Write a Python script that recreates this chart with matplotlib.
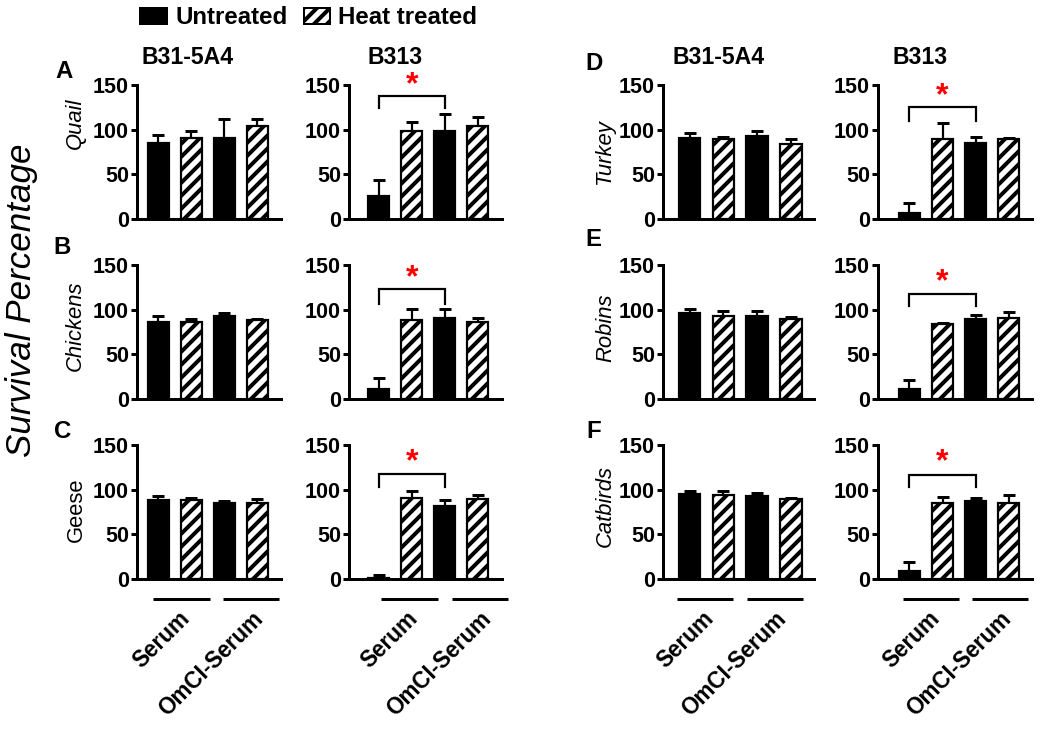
import matplotlib
matplotlib.use('Agg')
import matplotlib.pyplot as plt
import numpy as np
from matplotlib.patches import Patch
import matplotlib.transforms as mtransforms

DPI = 78
W, H = 1050, 732
PT = 72.0 / DPI


def px(v):
    return v * PT


plt.rcParams['font.family'] = ['Liberation Sans', 'DejaVu Sans']
plt.rcParams['hatch.linewidth'] = px(4)

# ---------------- data ----------------
species = ['Quail', 'Chickens', 'Geese', 'Turkey', 'Robins', 'Catbirds']
panel_letters = ['A', 'B', 'C', 'D', 'E', 'F']
strains = ['B31-5A4', 'B313']
groups = ['Serum', 'OmCI-Serum']
treatments = ['Untreated', 'Heat treated']
# bar order: Serum-Untreated, Serum-Heat, OmCI-Untreated, OmCI-Heat
quail_b31 = [85, 91, 91, 104]
quail_b31_err = [9, 8, 21, 8]
quail_b313 = [26, 98, 98, 104]
quail_b313_err = [18, 11, 20, 10]
chickens_b31 = [86, 86, 93, 88]
chickens_b31_err = [7, 3, 3, 2]
chickens_b313 = [11, 88, 91, 86]
chickens_b313_err = [12, 13, 10, 5]
geese_b31 = [88, 88, 85.5, 85.5]
geese_b31_err = [4.5, 3, 1.5, 3.5]
geese_b313 = [1, 91, 82, 89]
geese_b313_err = [3.5, 8, 6.5, 5]
turkey_b31 = [91, 89, 93, 83.5]
turkey_b31_err = [5, 3, 5, 6.5]
turkey_b313 = [7, 89, 85.5, 89]
turkey_b313_err = [10.5, 18, 6.5, 2]
robins_b31 = [96.5, 93, 93, 89]
robins_b31_err = [4, 6, 5, 3]
robins_b313 = [11, 84, 89, 91]
robins_b313_err = [10.5, 1.5, 5, 6]
catbirds_b31 = [95, 94, 93, 89]
catbirds_b31_err = [4, 4, 3, 1.5]
catbirds_b313 = [9, 85.5, 87.5, 85.5]
catbirds_b313_err = [9.5, 6.5, 3.5, 8.5]

# significance bracket heights (top, leg end) and star height for B313 panels
bracket_top = [138, 123, 117.5, 125.7, 117, 116.4]
bracket_leg = [124, 106.5, 102.6, 110, 104, 102.6]
star_y = [150, 135, 131, 137.5, 131, 130.5]

means = {
    'Quail': (quail_b31, quail_b313),
    'Chickens': (chickens_b31, chickens_b313),
    'Geese': (geese_b31, geese_b313),
    'Turkey': (turkey_b31, turkey_b313),
    'Robins': (robins_b31, robins_b313),
    'Catbirds': (catbirds_b31, catbirds_b313),
}
errs = {
    'Quail': (quail_b31_err, quail_b313_err),
    'Chickens': (chickens_b31_err, chickens_b313_err),
    'Geese': (geese_b31_err, geese_b313_err),
    'Turkey': (turkey_b31_err, turkey_b313_err),
    'Robins': (robins_b31_err, robins_b313_err),
    'Catbirds': (catbirds_b31_err, catbirds_b313_err),
}

# ---------------- layout (pixels) ----------------
rows_px = [(85, 219), (265, 399), (445, 579)]
cols_px = [(137, 281), (349, 502), (663, 814), (878, 1032)]
col_xlim = [(-0.64, 3.71), (-0.9, 3.73), (-0.79, 3.69), (-0.95, 3.7)]
group_lines = [
    [(-0.155, 1.57), (1.97, 3.66)],
    [(0.07, 1.8), (2.22, 3.92)],
    [(-0.37, 1.28), (1.70, 3.35)],
    [(-0.19, 1.5), (1.9, 3.57)],
]
species_label_pos = [(75, 123), (75, 326), (76, 510), (605, 152), (606, 328), (605, 506)]
letter_pos = [(64, 72), (62, 247), (63, 432), (594, 64), (593, 240), (594, 431)]
title_x = [188, 395, 719, 920]

fig = plt.figure(figsize=(W / DPI, H / DPI), dpi=DPI)

faces = ['black', 'white', 'black', 'white']
hatches = [None, '//', None, '//']
x = np.arange(4)

for s, sp in enumerate(species):
    row = s % 3
    block = s // 3
    for k in range(2):
        col = block * 2 + k
        l, r = cols_px[col]
        t, b = rows_px[row]
        ax = fig.add_axes([l / W, 1 - b / H, (r - l) / W, (b - t) / H])
        vals = means[sp][k]
        er = errs[sp][k]
        ax.errorbar(x, vals, yerr=[np.zeros(4), er], fmt='none', ecolor='black',
                    elinewidth=px(2.2), capsize=px(5.5), capthick=px(3), zorder=1)
        bars = ax.bar(x, vals, width=0.64, color=faces, edgecolor='black',
                      linewidth=px(2.2), zorder=2)
        for bar, h in zip(bars, hatches):
            if h:
                bar.set_hatch(h)
        ax.set_ylim(0, 150)
        ax.set_xlim(*col_xlim[col])
        ax.set_yticks([0, 50, 100, 150])
        for sd in ['top', 'right']:
            ax.spines[sd].set_visible(False)
        for sd in ['left', 'bottom']:
            ax.spines[sd].set_linewidth(px(3))
        ax.tick_params(axis='y', length=px(6), width=px(3), labelsize=px(21.5), pad=px(2))
        ax.tick_params(axis='x', bottom=False, labelbottom=False)
        for lab in ax.get_yticklabels():
            lab.set_fontweight('bold')

        if k == 1:
            ax.plot([0, 0, 2, 2], [bracket_leg[s], bracket_top[s], bracket_top[s], bracket_leg[s]],
                    color='black', lw=px(2.2), clip_on=False, solid_joinstyle='miter')
            ax.text(1, star_y[s], '*', color='red', ha='center', va='center',
                    fontsize=px(32), fontweight='bold', clip_on=False)

        if row == 2:
            trans = mtransforms.blended_transform_factory(ax.transData, fig.transFigure)
            for g, (x0, x1) in enumerate(group_lines[col]):
                ax.plot([x0, x1], [1 - 599 / H, 1 - 599 / H], color='black', lw=px(3),
                        transform=trans, clip_on=False, solid_capstyle='butt')
                cx = (x0 + x1) / 2 + (13 + 3 * g) / 33.3
                ax.text(cx, 1 - 607 / H, groups[g], rotation=45, ha='right', va='top',
                        fontsize=px(22.5), fontweight='bold', transform=trans)

        if row == 0:
            fig.text(title_x[col] / W, 1 - 58 / H, strains[k], ha='center', va='center',
                     fontsize=px(23), fontweight='bold')

    lx, ly = species_label_pos[s]
    fig.text(lx / W, 1 - ly / H, sp, rotation=90, ha='center', va='center',
             fontsize=px(22), style='normal' if sp == 'Geese' else 'italic')
    px_, py_ = letter_pos[s]
    fig.text(px_ / W, 1 - py_ / H, panel_letters[s], ha='center', va='center',
             fontsize=px(24), fontweight='bold')

fig.text(22 / W, 1 - 300 / H, 'Survival Percentage', rotation=90, ha='center', va='center',
         fontsize=px(35), style='italic')

handles = [Patch(facecolor='black', edgecolor='black', linewidth=px(2)),
           Patch(facecolor='white', edgecolor='black', hatch='//', linewidth=px(2))]
fig.legend(handles, treatments, loc='upper left', bbox_to_anchor=(138 / W, 1 - 4 / H),
           ncol=2, frameon=False, prop={'size': px(24), 'weight': 'bold'},
           handlelength=1.12, handleheight=0.67, handletextpad=0.33,
           columnspacing=0.67, borderpad=0.1, borderaxespad=0)

fig.savefig('out.png', dpi=DPI)
